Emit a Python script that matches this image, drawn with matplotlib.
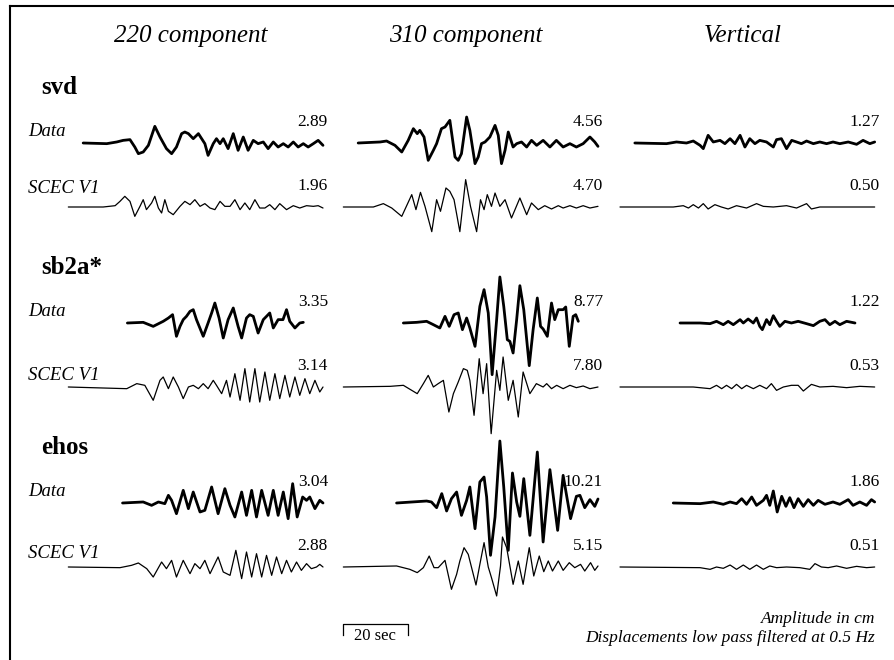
import matplotlib
matplotlib.use("Agg")
import matplotlib.pyplot as plt
from matplotlib.lines import Line2D
import numpy as np

plt.rcParams['font.family'] = ['Liberation Serif', 'DejaVu Serif']

stations = ["svd", "sb2a*", "ehos"]
components = ["220 component", "310 component", "Vertical"]

# peak amplitudes (cm) printed at the right of each trace
peak_obs = [[2.89, 4.56, 1.27], [3.35, 8.77, 1.22], [3.04, 10.21, 1.86]]
peak_syn = [[1.96, 4.70, 0.50], [3.14, 7.80, 0.53], [2.88, 5.15, 0.51]]

# traces: (time s, displacement cm)
svd_220_obs = [(4.7, 0), (12.0, -0.11), (15.1, 0.17), (17.1, 0.44), (19.2, 0.56), (20.7, -0.67), (21.8, -1.78),
               (23.3, -1.5), (24.9, -0.39), (26.9, 2.78), (28.5, 1.0), (30.5, -0.94), (32.1, -1.78), (33.6, -0.67),
               (35.2, 1.56), (36.2, 1.83), (37.3, 1.56), (38.8, 0.72), (40.4, 1.56), (42.4, -0.11), (43.4, -2.06),
               (45.0, -0.11), (46.0, 0.72), (47.1, -0.11), (48.1, 0.72), (49.6, -0.94), (51.2, 1.56), (52.7, -1.22),
               (54.3, 1.0), (55.8, -1.22), (57.4, 0.44), (58.9, -0.11), (60.5, 0.17), (62.0, -0.94), (63.6, 0.17),
               (65.1, -0.67), (66.7, -0.11), (68.2, -0.67), (69.8, 0.17), (71.3, -0.67), (72.9, -0.11), (74.4, -0.67),
               (76.0, -0.11), (77.5, 0.44), (79.0, -0.39)]
svd_220_syn = [(0.1, 0), (10.9, 0), (14.6, 0.22), (16.1, 0.94), (17.6, 1.78), (19.2, 0.94), (20.7, -1.56),
               (22.3, 0.11), (23.3, 1.22), (24.3, -0.44), (25.9, 0.67), (26.9, 1.78), (28.0, -0.17), (29.0, -1.0),
               (30.0, 1.22), (31.1, -0.72), (32.6, -1.28), (34.7, 0.11), (36.2, 0.94), (37.8, 0.39), (39.3, 1.22),
               (40.9, 0.11), (42.4, 0.56), (44.0, -0.17), (45.5, -0.44), (47.1, 0.94), (48.6, 0.11), (50.2, 0.11),
               (51.7, 1.22), (53.3, -0.44), (54.8, 0.67), (56.3, -0.44), (57.9, 1.22), (59.4, -0.17), (61.0, -0.17),
               (62.5, 0.39), (64.1, -0.44), (65.6, 0.56), (67.7, -0.44), (69.8, 0.22), (71.8, -0.17), (73.9, 0.22),
               (76.0, 0.11), (77.5, 0.22), (79.0, -0.17)]
svd_310_obs = [(4.7, 0), (11.5, 0.17), (13.5, 0.33), (16.1, -0.39), (18.2, -1.5), (20.2, 0.44), (21.8, 2.39),
               (23.0, 1.56), (23.8, 2.11), (25.1, 1.0), (26.4, -2.89), (28.0, -1.22), (29.0, -0.11), (30.5, 2.39),
               (31.6, 2.67), (33.1, 3.78), (34.7, -2.33), (35.7, -2.89), (36.7, -1.78), (38.3, 4.33), (39.3, 2.11),
               (40.9, -3.44), (41.9, -2.33), (42.9, -0.11), (44.0, 0.17), (45.5, 1.0), (47.1, 2.94), (48.1, 1.28),
               (49.1, -3.44), (50.2, -1.22), (51.2, 1.83), (52.7, -0.67), (53.8, -0.11), (55.3, 0.17), (56.9, -0.67),
               (58.4, 0.44), (60.0, -0.39), (62.0, 0.44), (64.1, -0.67), (66.1, 0.44), (68.2, -0.67), (70.3, -0.11),
               (72.3, -0.67), (74.4, -0.11), (76.5, 1.0), (78.0, 0.17), (79.0, -0.56)]
svd_310_syn = [(0.1, 0), (9.4, 0), (12.5, 0.56), (15.1, -0.17), (18.2, -1.56), (21.3, 2.06), (22.6, -0.44),
               (24.0, 2.44), (25.4, 0.11), (27.5, -4.11), (29.0, 1.22), (30.2, -0.72), (31.9, 3.17), (33.1, 2.61),
               (34.4, 1.22), (36.2, -4.11), (38.0, 4.56), (39.5, 0.11), (41.4, -4.11), (42.6, 1.22), (43.7, -0.44),
               (44.7, 2.06), (46.0, 0.11), (47.1, 2.33), (48.6, 0.11), (50.2, 1.22), (52.2, -1.83), (54.8, 1.5),
               (56.9, -1.28), (58.4, 0.67), (60.5, -0.44), (62.5, 0.22), (64.6, -0.33), (66.7, 0.22), (68.2, -0.17),
               (70.3, 0.22), (72.3, -0.17), (74.4, 0.22), (76.5, -0.17), (79.0, 0.11)]
svd_ver_obs = [(4.6, 0), (14.4, -0.11), (17.5, 0.17), (20.6, 0), (22.7, 0.33), (24.8, -0.39), (25.8, -0.94),
               (27.3, 1.28), (28.9, 0.17), (31.0, 0.44), (32.5, -0.11), (34.1, 0.72), (35.6, -0.11), (37.2, 1.28),
               (38.7, -0.67), (40.2, 0.72), (41.8, -0.11), (43.3, 0.44), (45.4, 0.17), (47.5, -0.67), (48.5, 0.56),
               (50.0, 0.72), (51.6, -0.94), (53.2, 0.44), (54.7, 0.17), (56.2, -0.11), (57.8, 0.33), (59.9, -0.11),
               (61.9, 0.17), (64.0, -0.11), (66.0, 0.17), (68.1, -0.11), (70.7, 0.17), (73.3, -0.22), (75.3, 0.44),
               (77.4, -0.11), (78.9, 0.17)]
svd_ver_syn = [(0, 0), (16.5, 0), (19.6, 0.22), (21.2, -0.17), (22.7, 0.39), (24.3, -0.17), (25.8, 0.56),
               (27.3, -0.33), (29.4, 0.39), (31.4, 0), (33.5, -0.33), (36.1, 0.22), (39.2, -0.17), (42.3, 0.56),
               (44.4, 0.11), (47.5, 0), (51.6, 0.22), (54.7, -0.17), (57.8, 0.56), (59.3, -0.33), (61.9, 0),
               (66.0, 0), (78.9, 0)]

sb2a_220_obs = [(18.4, 0), (23.3, 0.11), (26.4, -0.56), (29.5, 0.28), (31.1, 0.83), (32.4, 1.39), (33.6, -2.22),
                (34.7, -0.56), (35.7, 0.56), (36.7, 1.11), (37.8, 1.94), (38.8, 2.22), (39.8, 0.56), (41.9, -2.22),
                (43.4, 0), (44.5, 1.67), (45.5, 3.33), (46.8, 0.83), (48.1, -2.5), (49.6, 0.56), (51.2, 2.5),
                (52.7, -0.56), (53.8, -2.5), (55.3, 0.83), (56.3, 1.39), (57.4, 1.11), (58.9, -1.67), (60.5, 0.56),
                (61.5, 1.11), (62.5, 1.67), (63.6, -0.83), (65.1, 0.56), (66.6, 0.56), (67.7, 2.22), (68.7, 0.28),
                (70.3, -0.83), (71.8, 0), (72.9, 0.11)]
sb2a_220_syn = [(0.1, 0), (18.2, -0.28), (21.3, 0.56), (23.8, 0.28), (26.4, -2.22), (28.5, 1.11), (29.5, 1.67),
                (31.1, -0.28), (32.6, 1.67), (34.2, 0), (35.7, -1.94), (37.3, 0), (38.8, 0.28), (40.4, -0.28),
                (41.9, 0.56), (43.4, -0.28), (45.0, 1.11), (46.0, 0.28), (47.6, -1.11), (49.1, 1.11), (50.2, -1.67),
                (51.7, 2.22), (53.3, -2.22), (54.8, 3.06), (56.3, -2.5), (57.9, 3.06), (59.4, -2.5), (61.0, 2.5),
                (62.5, -2.22), (64.1, 2.22), (65.6, -1.94), (67.2, 1.94), (68.7, -1.67), (70.3, 1.67), (71.8, -1.39),
                (73.4, 1.39), (74.9, -1.11), (76.5, 1.11), (78.0, -0.83), (79.0, 0)]
sb2a_310_obs = [(18.7, 0), (22.8, 0.11), (25.9, 0.28), (28.0, -0.28), (30.0, -0.83), (31.6, 1.11), (32.9, -0.56),
                (34.4, 1.39), (35.7, 1.67), (37.0, -1.11), (38.3, 0.83), (39.3, -0.83), (40.9, -3.89), (42.4, 2.78),
                (43.7, 5.56), (45.0, 1.67), (46.2, -8.61), (47.6, 0.56), (48.6, 7.67), (49.8, 2.78), (50.9, -2.78),
                (51.7, -3.06), (52.7, -5.0), (53.8, 0.56), (54.8, 6.22), (56.0, 2.22), (57.7, -7.11), (58.9, -1.11),
                (60.2, 4.17), (61.2, -0.56), (62.0, -1.0), (63.3, -2.22), (64.6, 3.33), (65.6, 0.56), (66.7, 2.22),
                (68.2, 2.22), (69.0, 2.67), (70.1, -3.89), (71.3, 1.11), (72.1, 1.39), (72.9, 0.28)]
sb2a_310_syn = [(0.1, 0), (14.6, 0.11), (18.7, 0.28), (23.0, -1.11), (24.9, 0.56), (26.4, 1.94), (28.0, 0),
                (29.5, 0.56), (31.1, 1.11), (32.8, -4.17), (34.2, -1.11), (35.7, 0.83), (37.3, 3.06), (38.5, 2.78),
                (39.3, 1.11), (40.6, -4.72), (42.2, 4.72), (43.4, -1.11), (44.5, 3.89), (45.9, -7.78), (47.6, 2.78),
                (48.6, -0.56), (49.6, 5.0), (51.2, -2.22), (52.7, 1.11), (54.3, -5.0), (55.8, 2.5), (57.9, -1.11),
                (59.9, 0.56), (62.0, 0), (63.1, 0.56), (64.6, -0.28), (66.2, 0.28), (68.2, -0.28), (70.3, 0.28),
                (72.3, -0.11), (74.4, 0.17), (76.5, -0.28), (79.0, 0)]
sb2a_ver_obs = [(18.6, 0), (24.8, 0), (27.9, -0.11), (29.9, 0.28), (32.0, -0.28), (33.5, 0.28), (35.1, -0.28),
                (37.2, 0.56), (38.2, 0), (39.7, 0.67), (41.3, 0), (42.3, 0.83), (43.3, -0.56), (44.1, -1.11),
                (45.4, 0.56), (46.4, -0.28), (47.5, 1.22), (48.5, 0.28), (49.5, -0.56), (51.1, 0.28), (53.1, 0),
                (55.2, 0.28), (57.8, -0.11), (59.9, -0.44), (61.9, 0.28), (63.5, 0.56), (65.0, -0.28), (66.6, 0.28),
                (68.1, -0.28), (70.2, 0.28), (72.8, 0)]
sb2a_ver_syn = [(0, 0), (22.7, 0), (27.9, -0.28), (29.9, 0.28), (31.5, -0.28), (33.0, 0.28), (34.6, -0.28),
                (36.1, 0.44), (37.7, -0.28), (39.2, 0.28), (41.3, -0.28), (43.3, 0.28), (45.4, -0.28), (46.9, 0.56),
                (48.5, -0.56), (50.6, 0), (53.1, 0.28), (55.2, 0.28), (56.8, -0.67), (59.3, 0.44), (61.9, 0),
                (66.0, 0.11), (70.2, -0.11), (74.3, 0.11), (78.9, 0)]

ehos_220_obs = [(16.9, 0), (23.3, 0.17), (25.9, -0.39), (28.0, 0.17), (30.0, -0.11), (31.1, 1.28), (32.1, 0.44),
                (33.6, -1.78), (35.7, 2.11), (37.3, -0.94), (38.8, 1.83), (40.9, -1.5), (42.4, -1.22), (44.5, 2.67),
                (46.5, -1.78), (48.6, 2.39), (50.2, -0.39), (51.7, -2.33), (53.8, 1.83), (55.3, -2.06), (56.9, 2.11),
                (58.4, -2.33), (60.0, 2.11), (62.0, -2.06), (63.6, 2.11), (65.1, -2.06), (66.7, 1.83), (68.2, -2.61),
                (69.6, 3.22), (71.0, -2.33), (72.7, 1.0), (73.9, 0.44), (74.9, 1.0), (76.5, -0.94), (78.0, 0.44),
                (79.0, 0)]
ehos_220_syn = [(0.1, 0), (16.1, -0.11), (19.7, 0.28), (21.8, 0.67), (24.4, -0.28), (26.4, -1.67), (29.0, 0.83),
                (30.5, -0.28), (32.1, 1.11), (33.6, -1.67), (35.7, 1.11), (37.8, -1.11), (39.3, 0.56), (40.9, -0.28),
                (42.4, 1.11), (44.0, -1.11), (46.5, 1.67), (48.1, -0.83), (50.2, -1.39), (52.0, 2.78), (53.8, -1.94),
                (55.3, 2.5), (56.9, -1.67), (58.4, 2.22), (60.0, -1.67), (61.5, 1.94), (63.1, -1.39), (64.6, 1.67),
                (66.2, -1.11), (67.7, 1.11), (69.2, -0.83), (70.8, 0.83), (72.3, -0.56), (73.9, 0.56), (75.4, -0.28),
                (77.0, 0), (78.0, 0.44), (79.0, 0)]
ehos_310_obs = [(16.6, 0), (25.9, 0.33), (27.4, 0.17), (29.0, -0.78), (30.6, 1.56), (32.1, -1.33), (33.6, 0.72),
                (35.2, 1.83), (36.7, -2.06), (38.3, 0.44), (39.3, 2.67), (40.9, -4.28), (42.4, 3.5), (43.7, 4.33),
                (44.5, 1.0), (45.7, -8.72), (47.1, -2.33), (48.6, 10.33), (49.8, 2.67), (51.2, -7.89), (52.5, 5.0),
                (53.8, 0.17), (54.8, -2.22), (56.0, 4.06), (57.9, -5.39), (60.2, 8.5), (62.0, -6.5), (64.1, 5.56),
                (66.5, -4.56), (68.2, 4.61), (70.5, -2.61), (72.3, 1.11), (73.4, 1.28), (74.9, -0.78), (76.5, 0.56),
                (78.0, -0.56), (79.0, 0.67)]
ehos_310_syn = [(0.1, 0), (16.6, 0.17), (20.7, -0.39), (23.0, -0.94), (24.9, -0.11), (26.7, 1.83), (28.2, -0.11),
                (29.5, -0.11), (31.6, 1.11), (33.6, -3.72), (35.2, -1.22), (36.2, 1.0), (37.5, 3.22), (38.8, 2.11),
                (41.2, -3.0), (42.4, 0.44), (43.7, 4.06), (45.0, 0), (46.0, -1.78), (47.6, -4.83), (48.8, 0.17),
                (49.4, 5.0), (50.7, 3.22), (52.7, -2.89), (54.3, 1.0), (55.8, -2.89), (57.7, 3.22), (59.1, -1.5),
                (60.8, 1.83), (62.2, -0.78), (63.6, 1.0), (64.9, -0.67), (66.7, 1.0), (68.2, -0.56), (70.1, 0.72),
                (71.8, -0.11), (73.6, 0.44), (74.9, -0.67), (76.7, 0.72), (78.0, -0.56), (79.0, 0.17)]
ehos_ver_obs = [(16.5, 0), (24.8, -0.11), (28.9, 0.17), (32.0, -0.22), (34.1, 0.17), (36.1, -0.11), (37.7, 0.72),
                (39.2, -0.22), (40.8, 1.0), (42.3, -0.39), (44.4, 0.44), (45.4, 1.28), (46.4, -0.39), (47.5, 2.0),
                (48.7, -1.5), (50.1, 1.11), (51.4, -0.56), (52.6, 0.89), (53.9, -0.78), (55.2, 0.72), (56.8, -0.56),
                (58.3, 0.56), (59.9, -0.39), (61.4, 0.44), (63.5, -0.22), (66.0, 0.17), (68.1, -0.22), (70.7, 0.56),
                (72.2, -0.39), (74.3, 0.17), (76.4, -0.39), (77.9, 0.56), (78.9, 0.17)]
ehos_ver_syn = [(0, 0), (24.8, -0.11), (27.9, -0.39), (29.9, 0), (32.0, -0.22), (34.1, 0.33), (36.1, -0.39),
                (38.2, 0.33), (40.2, -0.39), (42.3, 0.33), (44.4, -0.39), (46.4, 0.17), (48.5, -0.11), (51.6, 0),
                (55.7, -0.11), (58.8, -0.39), (60.4, 0.56), (62.4, 0), (64.5, -0.11), (67.1, 0.17), (70.2, -0.22),
                (73.3, 0.11), (76.4, -0.11), (78.9, 0)]

obs = [[svd_220_obs, svd_310_obs, svd_ver_obs],
       [sb2a_220_obs, sb2a_310_obs, sb2a_ver_obs],
       [ehos_220_obs, ehos_310_obs, ehos_ver_obs]]
syn = [[svd_220_syn, svd_310_syn, svd_ver_syn],
       [sb2a_220_syn, sb2a_310_syn, sb2a_ver_syn],
       [ehos_220_syn, ehos_310_syn, ehos_ver_syn]]

# layout in pixels
W, H = 894, 660
col_x0 = [68, 343, 620]
col_w = 255
t_span = 79.0
obs_base = [143, 323, 503]
syn_base = [207, 387, 567]
px_per_cm = 6.0


def fx(px):
    return px / W


def fy(py):
    return 1 - py / H


fig = plt.figure(figsize=(W / 100, H / 100), dpi=100)


def trace_axes(col, base):
    half = 5.0 * px_per_cm
    ax = fig.add_axes([fx(col_x0[col]), fy(base + half), col_w / W, 2 * half / H])
    ax.set_xlim(0, t_span)
    ax.set_ylim(-5, 5)
    ax.axis('off')
    return ax


for i in range(3):
    for j in range(3):
        for tr, base, lw, pk in [(obs[i][j], obs_base[i], 2.0, peak_obs[i][j]),
                                 (syn[i][j], syn_base[i], 0.9, peak_syn[i][j])]:
            ax = trace_axes(j, base)
            arr = np.array(tr)
            ax.plot(arr[:, 0], arr[:, 1], color='black', lw=lw, clip_on=False,
                    solid_joinstyle='round', solid_capstyle='round')
            fig.text(fx(col_x0[j] + col_w + 5), fy(base - 21), f"{pk:.2f}",
                     ha='right', va='center', fontsize=12.5)

# column headings
for j, name in enumerate(components):
    fig.text(fx(col_x0[j] + col_w / 2 - 5), fy(36), name, ha='center', va='center',
             fontsize=18, style='italic')

# station names and row labels
st_y = [88, 268, 448]
data_y = [132, 312, 491]
scec_y = [188, 375, 554]
for i, st in enumerate(stations):
    fig.text(fx(41), fy(st_y[i]), st, ha='left', va='center', fontsize=18, fontweight='bold')
    fig.text(fx(28), fy(data_y[i]), "Data", ha='left', va='center', fontsize=13.5, style='italic')
    fig.text(fx(28), fy(scec_y[i]), "SCEC V1", ha='left', va='center', fontsize=13.5, style='italic')

# time scale bar under the 310 column
sax = fig.add_axes([fx(col_x0[1]), fy(640), col_w / W, 16 / H])
sax.set_xlim(0, t_span)
sax.set_ylim(-1, 0)
sax.axis('off')
sax.plot([0, 0, 20, 20], [-0.7, 0, 0, -0.7], color='black', lw=0.9, clip_on=False)
sax.text(10, -0.75, "20 sec", ha='center', va='center', fontsize=12)

fig.text(fx(875), fy(619), "Amplitude in cm", ha='right', va='center', fontsize=12.5, style='italic')
fig.text(fx(875), fy(638), "Displacements low pass filtered at 0.5 Hz", ha='right', va='center',
         fontsize=12.5, style='italic')

# frame lines at top and left
fig.add_artist(Line2D([fx(10), 1], [fy(6), fy(6)], color='black', lw=1.5))
fig.add_artist(Line2D([fx(10), fx(10)], [fy(6), 0], color='black', lw=1.5))

fig.savefig('out.png', dpi=100)
